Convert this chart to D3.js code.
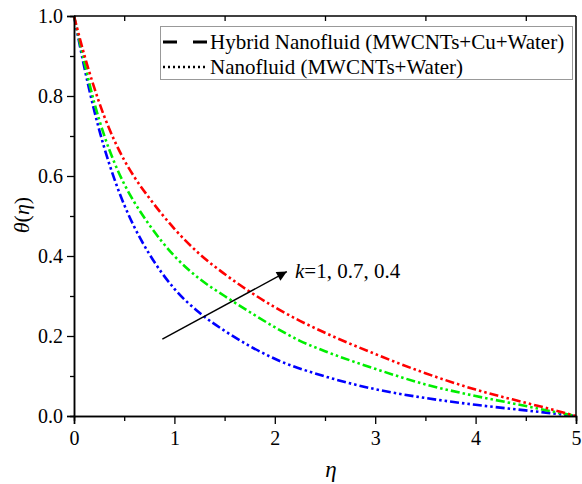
<!DOCTYPE html>
<html><head><meta charset="utf-8">
<script src="https://cdn.jsdelivr.net/npm/d3@7"></script>
<style>body{margin:0;background:#fff}svg{display:block}svg text{font-family:"Liberation Serif","Times New Roman",serif !important;fill:#000}</style>
</head><body>
<script>
const etaBlue  = [0,0.1,0.2,0.3,0.4,0.5,0.6,0.75,1.0,1.25,1.5,1.75,2.0,2.5,3.0,3.5,4.0,4.5,4.75,5.0];
const thetaBlue= [1.0,0.875,0.765,0.672,0.594,0.528,0.473,0.405,0.318,0.258,0.213,0.175,0.143,0.099,0.067,0.045,0.028,0.014,0.007,0.0];
const etaGreen = [0,0.1,0.2,0.3,0.4,0.5,0.6,0.75,1.0,1.25,1.5,1.75,2.0,2.25,2.5,3.0,3.5,4.0,4.5,4.75,5.0];
const thetaGreen=[1.0,0.888,0.785,0.702,0.635,0.58,0.535,0.478,0.40,0.343,0.30,0.26,0.222,0.188,0.162,0.118,0.079,0.05,0.025,0.012,0.0];
const etaRed   = [0,0.1,0.2,0.3,0.4,0.5,0.6,0.75,1.0,1.25,1.5,1.75,2.0,2.25,2.5,3.0,3.5,4.0,4.5,4.75,5.0];
const thetaRed = [1.0,0.905,0.822,0.75,0.69,0.64,0.598,0.545,0.468,0.405,0.355,0.311,0.272,0.238,0.208,0.155,0.107,0.066,0.033,0.017,0.0];
const seriesColors = ["#0000ff","#00ee00","#ff0000"];
const xTicks = [0,1,2,3,4,5];
const yTicks = [0.0,0.2,0.4,0.6,0.8,1.0];
const legendLabels = ["Hybrid Nanofluid (MWCNTs+Cu+Water)","Nanofluid (MWCNTs+Water)"];
const annotationText = ["k","=1, 0.7, 0.4"];
const arrowFrom = [0.88,0.192], arrowTo = [2.12,0.361];

const W=582,H=484, L=74, R=576, T=16, B=416;
const svg=d3.select("body").append("svg").attr("width",W).attr("height",H)
  .attr("font-family","Liberation Serif");
const x=d3.scaleLinear().domain([0,5]).range([L,R]);
const y=d3.scaleLinear().domain([0,1]).range([B,T]);

// curves
const series=[[etaBlue,thetaBlue],[etaGreen,thetaGreen],[etaRed,thetaRed]];
const line=d3.line().x(d=>x(d[0])).y(d=>y(d[1])).curve(d3.curveMonotoneX);
series.forEach((s,i)=>{
  const pts=s[0].map((e,j)=>[e,s[1][j]]);
  svg.append("path").attr("d",line(pts)).attr("fill","none")
    .attr("stroke",seriesColors[i]).attr("stroke-width",2.6)
    .attr("stroke-dasharray","9,3,2.5,3,2.5,3");
});

// axes
const gx=svg.append("g").attr("transform",`translate(0,${B})`)
  .call(d3.axisBottom(x).tickValues(xTicks).tickFormat(d3.format("d")).tickSize(8).tickPadding(7));
const gxm=svg.append("g").attr("transform",`translate(0,${B})`)
  .call(d3.axisBottom(x).tickValues([0.5,1.5,2.5,3.5,4.5]).tickFormat("").tickSize(5));
const gy=svg.append("g").attr("transform",`translate(${L},0)`)
  .call(d3.axisLeft(y).tickValues(yTicks).tickFormat(d3.format(".1f")).tickSize(7).tickPadding(4));
const gym=svg.append("g").attr("transform",`translate(${L},0)`)
  .call(d3.axisLeft(y).tickValues([0.1,0.3,0.5,0.7,0.9]).tickFormat("").tickSize(4));
const gt=svg.append("g").attr("transform",`translate(0,${T})`)
  .call(d3.axisBottom(x).tickValues([0.5,1.5,2.5,3.5,4.5]).tickFormat("").tickSize(5));
const gr=svg.append("g").attr("transform",`translate(${R},0)`)
  .call(d3.axisRight(y).tickValues([]).tickSize(0));
[gx,gxm,gy,gym,gt,gr].forEach(g=>{
  g.attr("font-family","Liberation Serif").attr("font-size",20);
  g.selectAll(".domain").attr("stroke","#000").attr("stroke-width",1.5);
  g.selectAll(".tick line").attr("stroke","#000").attr("stroke-width",1.3);
  g.selectAll("text").style("font-size","20px").attr("fill","#000");
});
gt.select(".domain").attr("d",`M${L},0H${R}`);
gr.select(".domain").attr("d",`M0,${T}V${B}`);
gx.selectAll("text").attr("dy","0.71em");

// axis titles
svg.append("text").attr("x",331).attr("y",477).attr("text-anchor","middle")
  .style("font-size","23px").style("font-style","italic").text("η");
const yt=svg.append("text").attr("transform","translate(29,215) rotate(-90)").attr("text-anchor","middle")
  .style("font-size","22px");
yt.append("tspan").style("font-style","italic").text("θ");
yt.append("tspan").text("(");
yt.append("tspan").style("font-style","italic").text("η");
yt.append("tspan").text(")");

// legend
svg.append("rect").attr("x",160.5).attr("y",26.5).attr("width",412).attr("height",53)
  .attr("fill","#fff").attr("stroke","#999").attr("stroke-width",1);
svg.append("line").attr("x1",163).attr("x2",208).attr("y1",42).attr("y2",42)
  .attr("stroke","#000").attr("stroke-width",3).attr("stroke-dasharray","14,16");
svg.append("line").attr("x1",163).attr("x2",207).attr("y1",67).attr("y2",67)
  .attr("stroke","#000").attr("stroke-width",2.5).attr("stroke-dasharray","2,3");
legendLabels.forEach((t,i)=>{
  svg.append("text").attr("x",210).attr("y",49+i*25).style("font-size","21px").text(t);
});

// arrow + annotation
svg.append("defs").append("marker").attr("id","ah").attr("viewBox","0 0 10 10")
  .attr("refX",10).attr("refY",5).attr("markerWidth",12).attr("markerHeight",10)
  .attr("markerUnits","userSpaceOnUse").attr("orient","auto")
  .append("path").attr("d","M0,0L10,5L0,10Z").attr("fill","#000");
svg.append("line").attr("x1",x(arrowFrom[0])).attr("y1",y(arrowFrom[1]))
  .attr("x2",x(arrowTo[0])).attr("y2",y(arrowTo[1]))
  .attr("stroke","#000").attr("stroke-width",1.4).attr("marker-end","url(#ah)");
const at=svg.append("text").attr("x",295).attr("y",278).style("font-size","21px");
at.append("tspan").style("font-style","italic").text(annotationText[0]);
at.append("tspan").text(annotationText[1]);
</script>
</body></html>
